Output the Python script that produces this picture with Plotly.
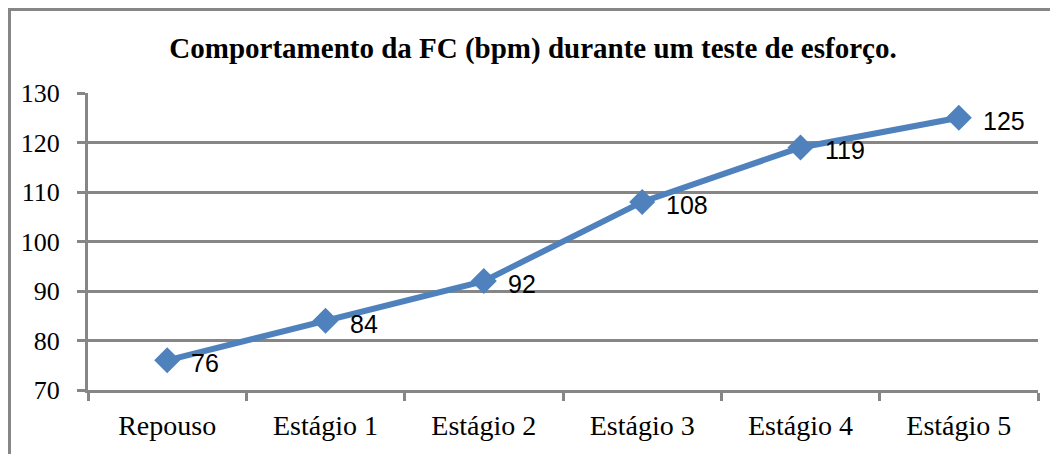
import plotly.graph_objects as go

categories = ["Repouso", "Estágio 1", "Estágio 2", "Estágio 3", "Estágio 4", "Estágio 5"]
fc_values = [76, 84, 92, 108, 119, 125]
y_ticks = [70, 80, 90, 100, 110, 120, 130]
title_text = "Comportamento da FC (bpm) durante um teste de esforço."

BLUE = "#4F81BD"
GRAY = "#868686"

W, H = 1050, 446
L, R, T, B = 80, 20, 85, 64
PW, PH = W - L - R, H - T - B

fig = go.Figure()
fig.add_trace(go.Scatter(
    x=categories, y=fc_values, mode="lines+markers",
    line=dict(color=BLUE, width=6),
    marker=dict(symbol="diamond", size=20, color=BLUE),
    showlegend=False, hoverinfo="skip",
))

for c, v in zip(categories, fc_values):
    fig.add_annotation(x=c, y=v, text=str(v), showarrow=False,
                       xanchor="left", yanchor="middle", xshift=22, yshift=-3,
                       font=dict(family="Liberation Sans, Arial", size=25, color="black"))

fig.update_layout(
    width=W, height=H,
    margin=dict(l=L, r=R, t=T, b=B),
    paper_bgcolor="white", plot_bgcolor="white",
    title=dict(text="<b>" + title_text + "</b>", x=0.5, xanchor="center",
               y=1 - 40 / H, yanchor="middle",
               font=dict(family="Liberation Serif, Times New Roman", size=29, color="black")),
    xaxis=dict(
        type="category", tickson="boundaries", ticks="outside", ticklen=8, tickwidth=3,
        tickcolor=GRAY, showline=True, linecolor=GRAY, linewidth=3, showgrid=False,
        range=[-0.5, 5.5], ticklabelstandoff=8,
        tickfont=dict(family="Liberation Serif, Times New Roman", size=28, color="black"),
    ),
    yaxis=dict(
        range=[70, 130], tickvals=y_ticks, ticks="outside", ticklen=8, tickwidth=3,
        tickcolor=GRAY, showline=True, linecolor=GRAY, linewidth=3,
        showgrid=True, gridcolor=GRAY, gridwidth=3, zeroline=False,
        ticklabelstandoff=12,
        tickfont=dict(family="Liberation Serif, Times New Roman", size=26, color="black"),
    ),
    shapes=[dict(type="rect", xref="paper", yref="paper",
                 x0=(1.5 - L) / PW, x1=1.2, y0=-0.6, y1=(PH + T - 1.5) / PH,
                 line=dict(color=GRAY, width=3), layer="below")],
)

fig.write_html("out.html")
